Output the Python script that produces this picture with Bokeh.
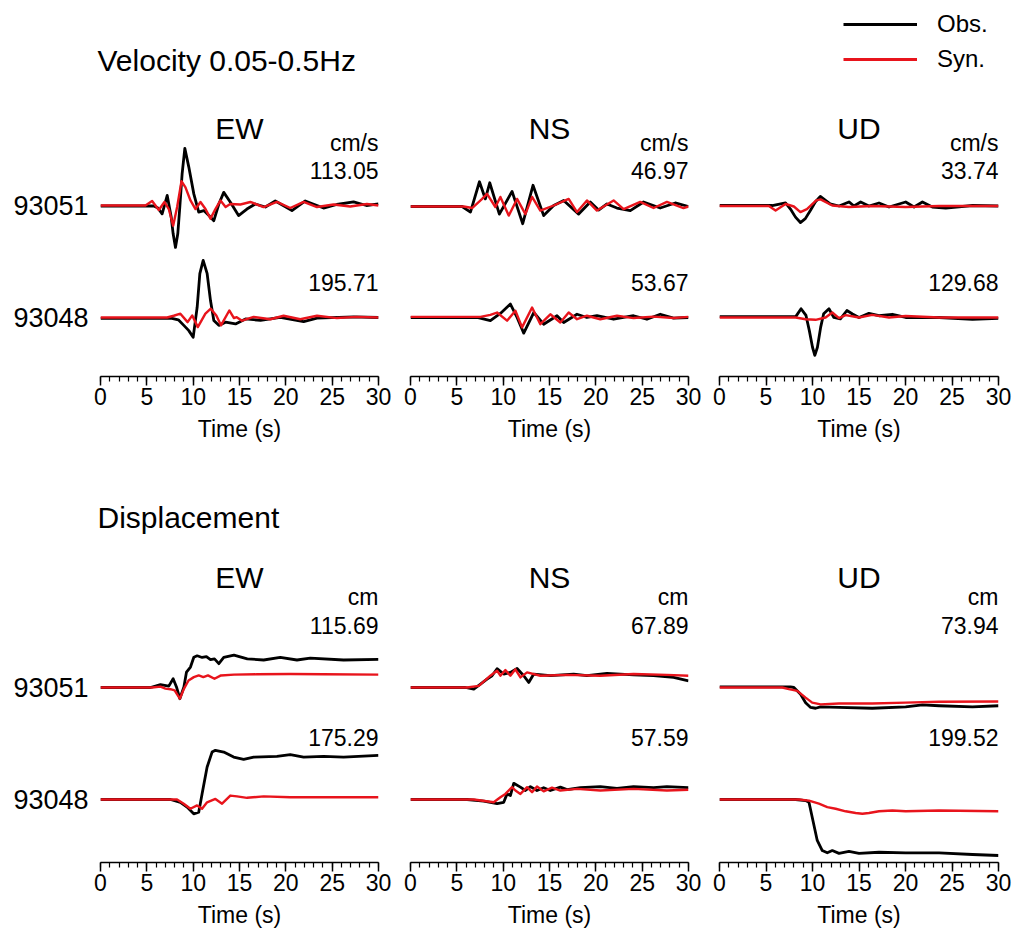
from bokeh.plotting import figure
from bokeh.layouts import column, row
from bokeh.models import Range1d, Label, Legend, LegendItem, FixedTicker
from bokeh.embed import file_html
from bokeh.resources import INLINE

FONT = "Liberation Sans"
BLACK = "#000000"
RED = "#e8141c"

stations = ["93051", "93048"]
components = ["EW", "NS", "UD"]
time_ticks = [0, 5, 10, 15, 20, 25, 30]
time_minor_ticks = list(range(0, 31))

# peak amplitudes of observed records (cm/s and cm)
vel_peak_93051 = [113.05, 46.97, 33.74]
vel_peak_93048 = [195.71, 53.67, 129.68]
disp_peak_93051 = [115.69, 67.89, 73.94]
disp_peak_93048 = [175.29, 57.59, 199.52]

# ---------------- Velocity 0.05-0.5 Hz (cm/s) ----------------
vel_EW_93051_obs_t = [0, 5.75, 6.2, 6.65, 7.2, 7.63, 7.84, 8.09, 8.34, 8.56, 8.81, 9.1, 9.53, 10.07, 10.6, 11.15, 11.7, 12.23, 12.77, 13.3, 14.0, 14.9, 15.8, 16.7, 17.8, 18.86, 20.66, 22.1, 24.07, 25.5, 27.31, 28.7, 30]
vel_EW_93051_obs_v = [-1, -1, -5, -16.5, 20, -23, -56, -83, -56, -3, 63, 113.05, 76, 23, -13, -10, -20, -30, 3, 26, 7, -20, -7, 3, -3, 9, -10, 9, -5, 2, 7, 0, 3]
vel_EW_93051_syn_t = [0, 4.85, 5.57, 6.29, 6.9, 7.37, 7.84, 8.27, 8.74, 9.17, 9.71, 10.25, 10.79, 11.33, 11.87, 12.4, 12.95, 13.5, 14.0, 15.09, 16.17, 17.6, 19.04, 20.48, 21.92, 23.36, 25.15, 26.95, 28.75, 30]
vel_EW_93051_syn_v = [0, 0, 9, -9, 7, -7, -40, -3, 48, 36, 10, -7, 7, -7, -26, -7, 10, -3, 3, 2, 7, -3, 7, -5, 7, -3, 2, -2, 3, 0]
vel_EW_93048_obs_t = [0, 7.7, 8.4, 8.99, 9.53, 10.0, 10.43, 10.72, 11.08, 11.51, 11.87, 12.23, 12.77, 13.49, 14.57, 15.65, 17.27, 19.4, 21.92, 23.36, 27.31, 30]
vel_EW_93048_obs_v = [-3, -3, -8, -27, -45, -68, 35, 150, 195.71, 150, 58, -10, -27, -16, -22, -5, -10, 0, -14, -2, 2, 0]
vel_EW_93048_syn_t = [0, 7.19, 7.9, 8.62, 9.4, 9.9, 10.5, 11.32, 11.9, 12.5, 13.0, 13.9, 14.4, 14.7, 15.27, 16.53, 18.33, 19.76, 21.56, 23.36, 25.51, 27.67, 30]
vel_EW_93048_syn_v = [0, 0, 6, 13, -16, 7, -33, 13, 30, 7, -27, 24, -2, 1, -11, 2, -6, 6, -6, 6, -2, 2, 0]

vel_NS_93051_obs_t = [0, 5.57, 6.47, 7.44, 8.08, 8.55, 9.59, 10.96, 12.11, 13.22, 14.37, 15.45, 16.53, 18.15, 19.4, 20.3, 21.2, 22.28, 23.72, 25.15, 26.95, 28.57, 30]
vel_NS_93051_obs_v = [-2, -2, -13, 46.97, 13, 45, -17, 28, -36, 40, -20, 0, 10, -17, 7, -9, 3, -5, -10, 7, -5, 5, -2]
vel_NS_93051_syn_t = [0, 5.75, 6.65, 7.73, 8.26, 9.16, 9.7, 10.6, 11.5, 12.4, 13.12, 14.01, 15.45, 17.07, 17.97, 19.04, 20.12, 21.92, 23.0, 24.79, 26.23, 27.67, 29.46, 30]
vel_NS_93051_syn_v = [-2, -2, -5, 13, 23, -3, 17, -20, 13, -17, 17, -10, 0, 13, -13, 10, -10, 10, -7, 7, -5, 7, -5, -2]
vel_NS_93048_obs_t = [0, 7.19, 8.62, 9.7, 10.78, 11.5, 12.22, 13.3, 14.37, 15.81, 16.53, 17.97, 19.04, 20.12, 21.92, 24.07, 25.51, 26.95, 28.39, 30]
vel_NS_93048_obs_v = [0, 0, -11, 14, 46, 0, -53.67, 17, -23, 6, -17, 11, 0, 6, -6, 6, -6, 11, -2, 0]
vel_NS_93048_syn_t = [0, 7.55, 8.62, 9.34, 10.42, 11.32, 12.04, 13.12, 14.01, 15.09, 16.17, 17.07, 17.97, 19.04, 20.48, 22.28, 24.07, 26.23, 28.39, 30]
vel_NS_93048_syn_v = [2, 2, 9, 17, -11, 23, -34, 34, -23, 11, -17, 17, -6, 6, -6, 6, -2, 3, -2, 2]

vel_UD_93051_obs_t = [0, 5.67, 7.1, 7.63, 8.17, 8.7, 9.23, 9.77, 10.3, 10.84, 11.4, 11.9, 12.85, 13.92, 14.46, 15.18, 16.07, 17.15, 18.23, 20.02, 20.92, 21.82, 22.89, 24.33, 27.2, 30]
vel_UD_93051_obs_v = [0, 0, 5, -7, -23, -33.74, -26, -10, 7, 18, 10, 3, -1, 7, -1, 7, -1, 5, -3, 7, -3, 7, -3, -5, 0, -1]
vel_UD_93051_syn_t = [0, 5.31, 6.03, 7.1, 8.0, 8.7, 9.4, 10.4, 10.87, 12.13, 13.92, 16.43, 20.02, 23.61, 30]
vel_UD_93051_syn_v = [-1, -1, -10, 3, -2, -13, -7, 10, 12, 0, -3, -1, -3, -1, -1]
vel_UD_93048_obs_t = [0, 8.2, 8.77, 9.3, 9.66, 10.0, 10.25, 10.53, 10.88, 11.2, 11.77, 12.3, 13.0, 13.7, 14.3, 15.0, 16.07, 17.15, 18.59, 20.02, 23.61, 27.2, 30]
vel_UD_93048_obs_v = [3, 3, 30, 7, -45, -102, -129.68, -102, -33, 13, 30, 0, -5, 24, 12, 0, 14, 6, 11, 0, 0, -6, -3]
vel_UD_93048_syn_t = [0, 8.18, 9.26, 10.33, 11.41, 12.13, 12.85, 13.56, 15.0, 16.43, 18.23, 20.02, 23.61, 30]
vel_UD_93048_syn_v = [0, 0, -6, -8, 0, 17, -2, 8, 0, 9, 0, 5, 0, 0]

# ---------------- Displacement (cm) ----------------
disp_EW_93051_obs_t = [0, 5.39, 6.47, 7.37, 7.84, 8.2, 8.56, 9.0, 9.28, 9.71, 10.07, 10.43, 10.97, 11.43, 11.87, 12.3, 12.77, 13.3, 14.4, 15.84, 17.61, 19.4, 21.2, 22.64, 26.23, 30]
disp_EW_93051_obs_v = [0, 0, 10, 5, 31, 2, -40, 2, 55, 73, 108, 113, 107, 110, 99, 102, 85, 107, 115.69, 102, 98, 107, 98, 105, 98, 100]
disp_EW_93051_syn_t = [0, 5.57, 6.47, 7.01, 7.55, 8.0, 8.56, 9.0, 9.5, 10.07, 10.6, 11.1, 11.6, 12.3, 13.0, 14.4, 16.89, 20.48, 24.07, 30]
disp_EW_93051_syn_v = [0, 0, 3, -4, -6, -10, -40, -5, 25, 37, 43, 37, 43, 31, 43, 46, 47, 48, 47, 46]
disp_EW_93048_obs_t = [0, 7.55, 8.62, 9.34, 10.06, 10.6, 10.96, 11.5, 12.04, 12.4, 13.3, 14.37, 15.45, 16.53, 19.04, 20.48, 21.92, 24.07, 26.23, 30]
disp_EW_93048_obs_v = [0, 0, -10, -27, -51, -45, 20, 115, 169, 175.29, 169, 151, 143, 151, 154, 160, 151, 154, 151, 157]
disp_EW_93048_syn_t = [0, 8.26, 8.98, 9.7, 10.42, 10.96, 11.5, 12.4, 13.12, 14.01, 14.73, 15.81, 17.61, 20.48, 30]
disp_EW_93048_syn_v = [0, 0, -15, -33, -21, -33, -10, 2, -15, 14, 11, 6, 11, 8, 8]

disp_NS_93051_obs_t = [0, 5.93, 6.83, 7.55, 8.26, 8.8, 9.34, 10.06, 10.78, 11.5, 12.22, 12.76, 13.3, 15.09, 17.61, 19.04, 21.2, 24.07, 26.23, 28.39, 30]
disp_NS_93051_obs_v = [0, 0, -6, 12, 30, 42, 67, 48, 54, 67.89, 42, 18, 48, 42, 48, 42, 50, 45, 42, 36, 24]
disp_NS_93051_syn_t = [0, 6.11, 7.37, 8.62, 9.34, 9.7, 10.24, 10.78, 11.32, 11.86, 12.58, 14.01, 16.89, 20.48, 24.07, 27.67, 30]
disp_NS_93051_syn_v = [0, 0, 6, 42, 60, 42, 62, 42, 65, 36, 54, 42, 45, 42, 48, 45, 42]
disp_NS_93048_obs_t = [0, 6.11, 7.9, 9.34, 10.06, 10.42, 10.78, 11.14, 11.86, 12.4, 12.94, 13.65, 14.37, 15.09, 16.17, 16.89, 18.33, 20.48, 22.28, 24.07, 26.23, 27.67, 30]
disp_NS_93048_obs_v = [0, 0, -6, -15, -10, 20, 14, 57.59, 44, 32, 46, 32, 42, 32, 44, 35, 42, 46, 40, 46, 42, 46, 42]
disp_NS_93048_syn_t = [0, 6.83, 8.98, 9.7, 10.24, 10.96, 11.32, 11.86, 12.58, 13.12, 13.65, 14.37, 15.27, 16.17, 17.97, 20.48, 24.07, 27.67, 30]
disp_NS_93048_syn_v = [0, 0, -10, 8, 20, 44, 32, 20, 44, 26, 46, 29, 42, 32, 38, 32, 38, 32, 35]

disp_UD_93051_obs_t = [0, 7.64, 8.0, 8.72, 9.26, 9.8, 10.33, 10.87, 12.85, 16.43, 20.02, 21.82, 23.61, 27.2, 30]
disp_UD_93051_obs_v = [2, 2, 0, -24, -54, -71, -73.94, -69, -71, -74, -69, -62, -65, -69, -65]
disp_UD_93051_syn_t = [0, 6.75, 7.46, 8.36, 9.26, 9.97, 10.87, 12.85, 16.43, 20.02, 23.61, 30]
disp_UD_93051_syn_v = [0, 0, -6, -12, -36, -54, -60, -57, -57, -54, -51, -50]
disp_UD_93048_obs_t = [0, 8.18, 9.26, 9.62, 9.97, 10.51, 11.05, 11.59, 12.13, 12.85, 13.92, 15.0, 17.15, 20.02, 23.61, 27.2, 30]
disp_UD_93048_obs_v = [0, 0, -4, -10, -63, -146, -182, -190, -182, -192, -185, -192, -188, -190, -190, -196, -199.52]
disp_UD_93048_syn_t = [0, 8.54, 9.62, 10.69, 11.59, 12.49, 13.56, 14.64, 15.36, 16.07, 17.15, 18.59, 20.02, 23.61, 30]
disp_UD_93048_syn_v = [0, 0, -4, -15, -27, -33, -42, -48, -51, -48, -42, -39, -42, -39, -42]

# legend sample lines (drawn outside the visible header range; only their legend glyphs show)
legend_sample_x = [-20, -10]
legend_sample_y = [-20, -20]

# ---------------- assemble ----------------
G = globals()
peaks = {
    ("vel", "93051"): vel_peak_93051, ("vel", "93048"): vel_peak_93048,
    ("disp", "93051"): disp_peak_93051, ("disp", "93048"): disp_peak_93048,
}
station_offset = {"93051": 1.0, "93048": 0.0}

# display half-height of the largest trace (in station spacings)
VEL_HALF = 0.51
DISP_HALF = 0.50
norm = {
    ("vel", "93051"): max(vel_peak_93051) / VEL_HALF,
    ("vel", "93048"): max(vel_peak_93048) / VEL_HALF,
    ("disp", "93051"): max(disp_peak_93051 + disp_peak_93048) / DISP_HALF,
    ("disp", "93048"): max(disp_peak_93051 + disp_peak_93048) / DISP_HALF,
}

COL_W = [394, 310, 309]
BORDER_L = [100, 16, 15]
BORDER_R = [16, 16, 15]

GEOM = {
    "vel": dict(top=20, frame=271, bottom=79, yr=(-0.527, 1.893), title_y=1.6875,
                unit_y=1.5625, peak_dy=0.3125, unit="cm/s"),
    "disp": dict(top=15, frame=307, bottom=71, yr=(-0.5625, 2.1786), title_y=1.982,
                 unit_y=1.804, peak_dy=0.55, unit="cm"),
}


def text_label(p, x, y, text, size, align):
    p.add_layout(Label(x=x, y=y, text=text, text_align=align, text_baseline="middle",
                       text_font=FONT, text_font_size=size, text_color=BLACK))


def panel(kind, ci):
    comp = components[ci]
    g = GEOM[kind]
    p = figure(width=COL_W[ci], height=g["top"] + g["frame"] + g["bottom"],
               x_range=Range1d(0, 30), y_range=Range1d(*g["yr"]),
               toolbar_location=None, output_backend="svg",
               y_axis_location="left" if ci == 0 else None,
               min_border_left=BORDER_L[ci], min_border_right=BORDER_R[ci],
               min_border_top=g["top"], min_border_bottom=g["bottom"])
    p.outline_line_color = None
    p.grid.visible = False

    ax = p.xaxis[0]
    ax.ticker = FixedTicker(ticks=time_ticks, minor_ticks=time_minor_ticks)
    ax.axis_label = "Time (s)"
    ax.axis_label_text_font = FONT
    ax.axis_label_text_font_size = "23px"
    ax.axis_label_text_font_style = "normal"
    ax.axis_label_text_color = BLACK
    ax.axis_label_standoff = 8
    ax.major_label_text_font = FONT
    ax.major_label_text_font_size = "23px"
    ax.major_label_text_color = BLACK
    ax.major_label_standoff = 2
    ax.axis_line_color = BLACK
    ax.axis_line_width = 1.5
    ax.major_tick_line_color = BLACK
    ax.major_tick_line_width = 1.5
    ax.minor_tick_line_color = BLACK
    ax.minor_tick_line_width = 1.2
    ax.major_tick_in = 0
    ax.major_tick_out = 9
    ax.minor_tick_in = 0
    ax.minor_tick_out = 5

    if ci == 0:
        ya = p.yaxis[0]
        ya.ticker = FixedTicker(ticks=[station_offset[s] for s in stations], minor_ticks=[])
        ya.major_label_overrides = {station_offset[s]: s for s in stations}
        ya.major_label_text_font = FONT
        ya.major_label_text_font_size = "27px"
        ya.major_label_text_color = BLACK
        ya.major_label_standoff = 6
        ya.axis_line_color = None
        ya.major_tick_line_color = None
        ya.minor_tick_line_color = None

    for s in stations:
        off = station_offset[s]
        nrm = norm[(kind, s)]
        for which, color, lw in (("obs", BLACK, 2.8), ("syn", RED, 2.4)):
            t = G[f"{kind}_{comp}_{s}_{which}_t"]
            v = G[f"{kind}_{comp}_{s}_{which}_v"]
            y = [off + a / nrm for a in v]
            p.line(t, y, line_color=color, line_width=lw, line_join="round")
        text_label(p, 30, off + g["peak_dy"], f"{peaks[(kind, s)][ci]:.2f}", "23px", "right")

    text_label(p, 15, g["title_y"], comp, "30px", "center")
    text_label(p, 30, g["unit_y"], g["unit"], "23px", "right")
    return p


def heading(text, y):
    h = figure(width=1013, height=85, x_range=Range1d(0, 1013), y_range=Range1d(85, 0),
               toolbar_location=None, output_backend="svg",
               x_axis_location=None, y_axis_location=None,
               min_border_left=0, min_border_right=0, min_border_top=0, min_border_bottom=0)
    h.outline_line_color = None
    h.grid.visible = False
    h.add_layout(Label(x=97, y=y, text=text, text_align="left", text_baseline="middle",
                       text_font=FONT, text_font_size="30px", text_color=BLACK))
    return h


header = heading("Velocity 0.05-0.5Hz", 60)
r_obs = header.line(legend_sample_x, legend_sample_y, line_color=BLACK, line_width=3)
r_syn = header.line(legend_sample_x, legend_sample_y, line_color=RED, line_width=3)
legend = Legend(items=[LegendItem(label="Obs.", renderers=[r_obs]),
                       LegendItem(label="Syn.", renderers=[r_syn])],
                location=(843, 10), orientation="vertical",
                glyph_width=74, glyph_height=32, label_height=32, label_standoff=20,
                spacing=3, padding=0, margin=0,
                label_text_font=FONT, label_text_font_size="24px", label_text_color=BLACK,
                border_line_color=None, background_fill_alpha=0)
header.add_layout(legend)

mid = heading("Displacement", 62)

vel_row = row([panel("vel", i) for i in range(3)], spacing=0)
disp_row = row([panel("disp", i) for i in range(3)], spacing=0)
layout = column([header, vel_row, mid, disp_row], spacing=0)

open("out.html", "w").write(file_html(layout, INLINE, "Velocity and displacement waveforms"))
